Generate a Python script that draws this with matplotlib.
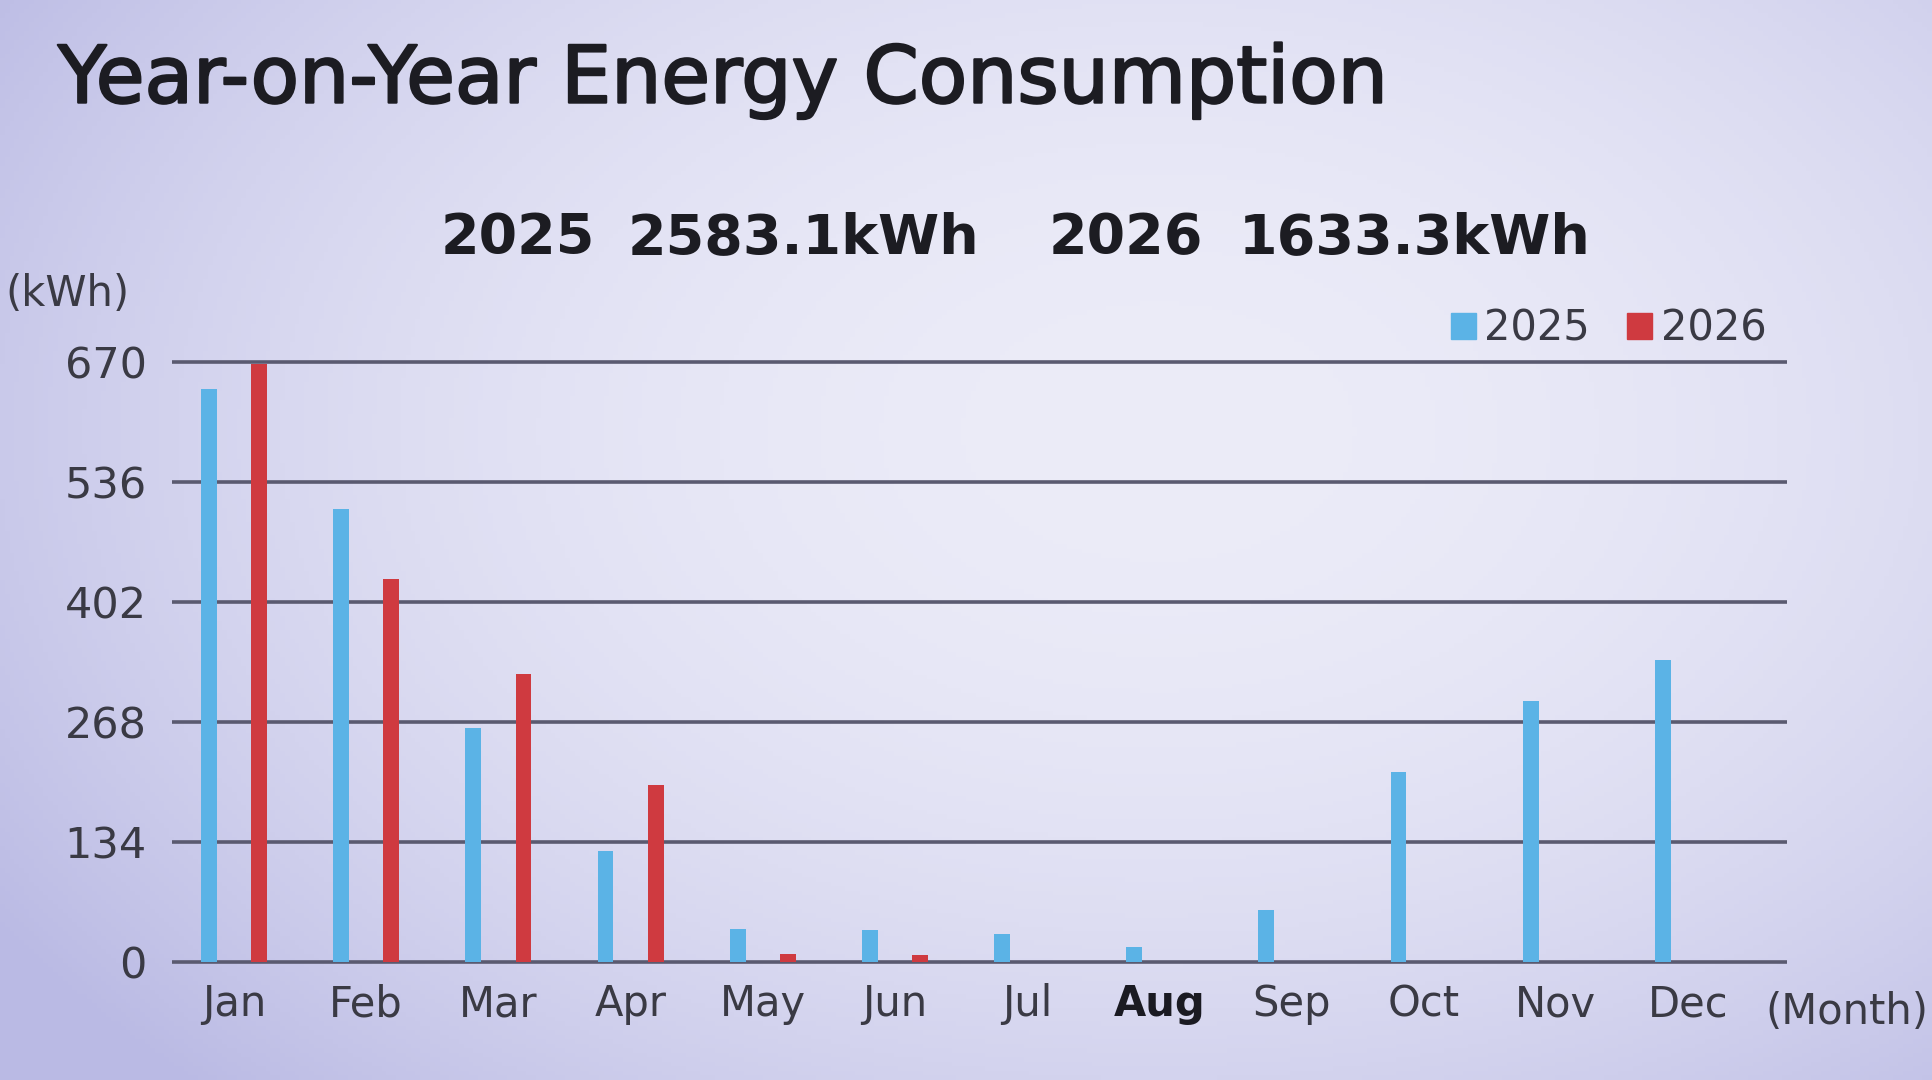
import numpy as np
import matplotlib
matplotlib.use('Agg')
import matplotlib.pyplot as plt
import matplotlib.patheffects as pe
from matplotlib.patches import Patch

# 数据
months = ['Jan', 'Feb', 'Mar', 'Apr', 'May', 'Jun', 'Jul', 'Aug', 'Sep', 'Oct', 'Nov', 'Dec']
usage_2025 = [640, 506, 262, 124, 37, 36, 31, 17, 58, 212, 292, 338]
usage_2026 = [668, 428, 322, 198, 9.5, 7.8, 0, 0, 0, 0, 0, 0]
y_ticks = [0, 134, 268, 402, 536, 670]
total_2025 = '2583.1kWh'
total_2026 = '1633.3kWh'
selected_month = 'Aug'

BLUE = '#5bb3e6'
RED = '#cf3a40'
GRID = '#5a5a70'

fig = plt.figure(figsize=(19.32, 10.8), dpi=100)

# 背景渐变（屏幕照片的光照效果）
bg = fig.add_axes([0, 0, 1, 1], zorder=-10)
gx, gy = np.meshgrid(np.linspace(0, 1, 400), np.linspace(0, 1, 240))
d = ((gx - 0.6) / 0.72) ** 2 + ((gy - 0.4) / 0.85) ** 2
d = np.clip(d, 0, 1)
c_in = np.array([236, 236, 248]) / 255
c_out = np.array([186, 186, 228]) / 255
img = c_in[None, None, :] * (1 - d[..., None]) + c_out[None, None, :] * d[..., None]
bg.imshow(img, aspect='auto', extent=[0, 1, 0, 1], origin='upper')
bg.axis('off')

ax = fig.add_axes([0.089, 0.105, 0.836, 0.572])
ax.set_facecolor('none')

x = np.arange(len(months))
w = 0.12
off = 0.19
ax.bar(x - off, usage_2025, width=w, color=BLUE, zorder=3, label='2025')
ax.bar(x + off, usage_2026, width=w, color=RED, zorder=3, label='2026')

ax.set_ylim(-5, 685)
ax.set_xlim(-0.47, 11.75)
ax.set_yticks(y_ticks)
ax.set_yticklabels([str(v) for v in y_ticks], fontsize=31, color='#3a3a44')
ax.set_xticks(x)
ax.set_xticklabels(months, fontsize=30, color='#3a3a44')
for lab in ax.get_xticklabels():
    if lab.get_text() == selected_month:
        lab.set_fontweight('bold')
        lab.set_color('#1a1a22')
ax.tick_params(axis='both', length=0)
ax.tick_params(axis='y', pad=18)
ax.tick_params(axis='x', pad=12)
ax.yaxis.grid(True, color=GRID, linewidth=2.6, zorder=1)
ax.set_axisbelow(True)
for s in ax.spines.values():
    s.set_visible(False)

ax.text(12.2, -0.04, '(Month)', transform=ax.get_xaxis_transform(),
        fontsize=30, color='#3a3a44', ha='center', va='top')
fig.text(0.003, 0.728, '(kWh)', fontsize=30, color='#3a3a44', ha='left', va='center')

# 标题和总计
fig.text(0.030, 0.905, 'Year-on-Year Energy Consumption', fontsize=57,
         color='#1c1c22', ha='left', va='baseline',
         path_effects=[pe.withStroke(linewidth=1.6, foreground='#1c1c22')])
fig.text(0.228, 0.766, '2025', fontsize=40, fontweight='bold', color='#1c1c22', va='baseline')
fig.text(0.325, 0.766, total_2025, fontsize=40, fontweight='bold', color='#1c1c22', va='baseline')
fig.text(0.543, 0.766, '2026', fontsize=40, fontweight='bold', color='#1c1c22', va='baseline')
fig.text(0.641, 0.766, total_2026, fontsize=40, fontweight='bold', color='#1c1c22', va='baseline')

handles = [Patch(color=BLUE), Patch(color=RED)]
ax.legend(handles, ['2025', '2026'], ncol=2, frameon=False, fontsize=30,
          loc='lower right', bbox_to_anchor=(1.0, 0.965), borderaxespad=0.1,
          handlelength=0.6, handleheight=0.6, handletextpad=0.2,
          columnspacing=0.9, labelcolor='#3a3a44')

fig.savefig('out.png', dpi=100)
